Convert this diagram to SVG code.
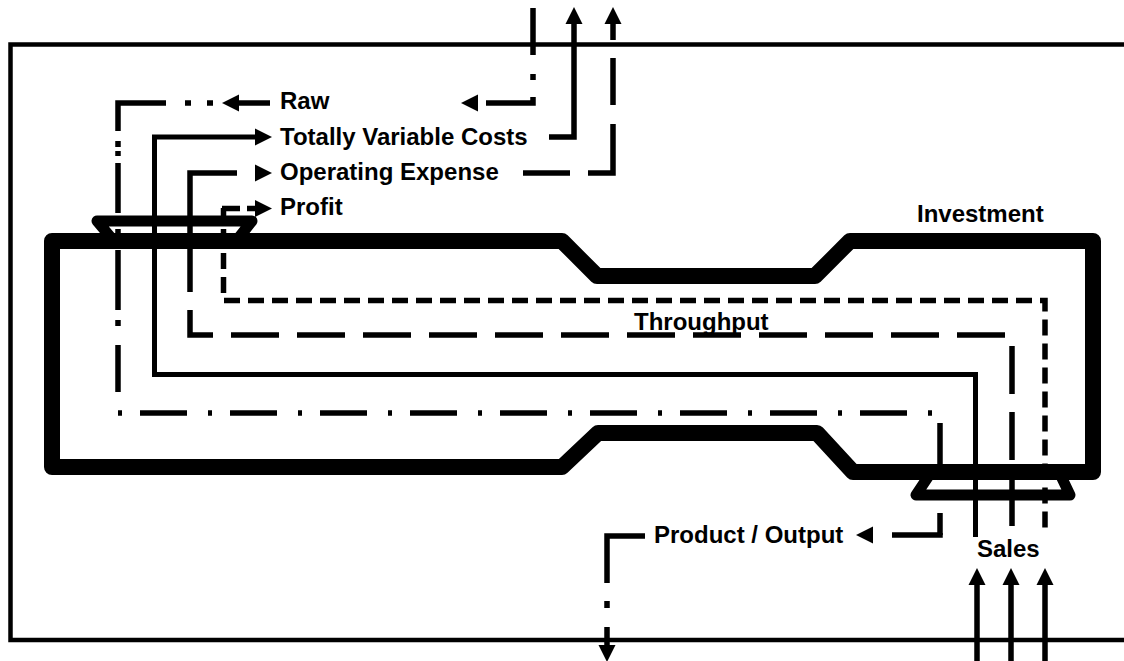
<svg xmlns="http://www.w3.org/2000/svg" xmlns:xlink="http://www.w3.org/1999/xlink" width="1124" height="661" viewBox="0 0 1124 661">
<style>
.lbl{font-family:"Liberation Sans",Arial,sans-serif;font-weight:bold;font-size:24px;fill:#000}
.ln{fill:none;stroke:#000;stroke-width:5.5;stroke-linecap:butt;stroke-linejoin:miter}
.thin{fill:none;stroke:#000;stroke-width:5;stroke-linejoin:miter}
.ah{fill:#000;stroke:none}
</style>
<defs>
<path id="ah" d="M0,0 L-17,-8.5 L-17,8.5 Z"/>
</defs>
<rect width="1124" height="661" fill="#fff"/>
<g id="boundary">
<rect x="10.5" y="44.5" width="1200" height="595.5" fill="none" stroke="#000" stroke-width="4.5"/>
</g>
<g id="investment">
<polygon points="52,241 562,241 597,276 815,276 850,241 1093,241 1093,472 853,472 817,433 598,433 562,467 52,467" fill="none" stroke="#000" stroke-width="16" stroke-linejoin="round"/>
<text class="lbl" x="917" y="222">Investment</text>
</g>
<g id="funnel-in">
<path d="M113,240 L97,221 H252 L237,240" fill="none" stroke="#000" stroke-width="11" stroke-linejoin="round"/>
</g>
<g id="funnel-out">
<path d="M930,474 L916,495 H1070 L1060,474" fill="none" stroke="#000" stroke-width="11" stroke-linejoin="round"/>
</g>
<g id="labels">
<text class="lbl" x="280" y="109">Raw</text>
<text class="lbl" x="280" y="145">Totally Variable Costs</text>
<text class="lbl" x="280" y="180">Operating Expense</text>
<text class="lbl" x="280" y="215">Profit</text>
<text class="lbl" x="634" y="330">Throughput</text>
<text class="lbl" x="654" y="543">Product / Output</text>
<text class="lbl" x="977" y="557">Sales</text>
</g>
<g id="connectors">
<!-- Raw (dash-dot) -->
<path class="ln" d="M533,8 V55 M533,74 V80 M533,97 V103 H486"/>
<use href="#ah" transform="translate(461,103) rotate(180)"/>
<path class="ln" d="M270,103 H238"/>
<use href="#ah" transform="translate(222,103) rotate(180)"/>
<path class="ln" d="M213,103 H207 M191,103 H185 M166,103 H118 V131 M118,141 V147 M118,151 V156 M118,163 V213 M118,229 V235 M118,250 V310 M118,320 V326 M118,345 V392 M118,411"/>
<path class="ln" d="M118,413 H940 V535" stroke-dasharray="4 18 47 21"/>
<path class="ln" d="M940,533 V535 H892"/>
<use href="#ah" transform="translate(856,535) rotate(180)"/>
<path class="ln" d="M645,536 H607 V583 M607,601 V608 M607,627 V646"/>
<use href="#ah" transform="translate(607,662) rotate(90)"/>
<!-- Totally Variable Costs (solid) -->
<path class="thin" d="M255,137 H154.5 V374.5 H975.5 V537"/>
<use href="#ah" transform="translate(272,137) rotate(0)"/>
<path class="ln" d="M549,137 H574 V23"/>
<use href="#ah" transform="translate(574,7) rotate(-90)"/>
<!-- Operating Expense (long dash) -->
<path class="ln" d="M613,24 V40 M613,58 V105 M613,124 V173 H588 M570,173 H523"/>
<use href="#ah" transform="translate(613,7) rotate(-90)"/>
<use href="#ah" transform="translate(272,173) rotate(0)"/>
<path class="ln" d="M237,173 H190 V292"/>
<path class="ln" d="M190,310 V335 H1012 V527" stroke-dasharray="48 18"/>
<!-- Profit (short dash) -->
<path class="ln" d="M222,208.5 H240 M247,208.5 H256"/>
<use href="#ah" transform="translate(272,208.5) rotate(0)"/>
<path class="ln" d="M223.5,208 V300.5 H1045 V533" stroke-dasharray="16 8" stroke-dashoffset="3"/>
<!-- Sales arrows -->
<path class="ln" d="M977,661 V584 M1011,661 V584 M1045,661 V584"/>
<use href="#ah" transform="translate(977,568) rotate(-90)"/>
<use href="#ah" transform="translate(1011,568) rotate(-90)"/>
<use href="#ah" transform="translate(1045,568) rotate(-90)"/>
</g>
</svg>
